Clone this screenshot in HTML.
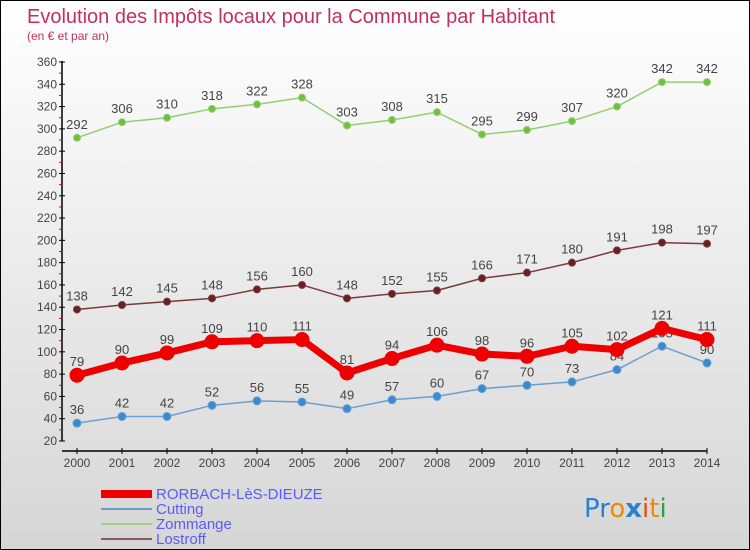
<!DOCTYPE html>
<html><head><meta charset="utf-8"><style>
body{margin:0}
#wrap{position:relative;width:748px;height:548px;border:1px solid #000;background:linear-gradient(#ffffff,#d6d6d6);overflow:hidden;font-family:"Liberation Sans","DejaVu Sans",sans-serif}
svg{position:absolute;left:0;top:0}
</style></head><body>
<div id="wrap">
<svg id="c" width="748" height="548">
<text x="26" y="22" font-size="20" fill="#c03060">Evolution des Impôts locaux pour la Commune par Habitant</text>
<text x="26" y="39" font-size="12" fill="#c03060">(en € et par an)</text>
<g id="axes"></g><g id="series"></g>
<g>
<rect x="100" y="489" width="51" height="8" fill="#e00"/>
<text x="155" y="498" font-size="15" fill="#5a5aff">RORBACH-LèS-DIEUZE</text>
<rect x="100" y="507" width="51" height="2" fill="#6aa0c8"/>
<text x="155" y="513" font-size="15" fill="#5a5aff">Cutting</text>
<rect x="100" y="522" width="51" height="2" fill="#a0d080"/>
<text x="155" y="528" font-size="15" fill="#5a5aff">Zommange</text>
<rect x="100" y="537" width="51" height="2" fill="#8a5a5a"/>
<text x="155" y="543" font-size="15" fill="#5a5aff">Lostroff</text>
</g>
<g font-size="26" font-family="'DejaVu Sans',sans-serif">
<text x="583" y="516"><tspan fill="#2a7fd0">Pr</tspan><tspan fill="#f08a00">o</tspan><tspan fill="#2a7fd0" font-weight="bold">x</tspan><tspan fill="#e05010">i</tspan><tspan fill="#f08a00">t</tspan><tspan fill="#30a040">i</tspan></text>
</g>
</svg></div>
<script>
const years=[2000,2001,2002,2003,2004,2005,2006,2007,2008,2009,2010,2011,2012,2013,2014];
const rorbach=[79,90,99,109,110,111,81,94,106,98,96,105,102,121,111];
const cutting=[36,42,42,52,56,55,49,57,60,67,70,73,84,105,90];
const zommange=[292,306,310,318,322,328,303,308,315,295,299,307,320,342,342];
const lostroff=[138,142,145,148,156,160,148,152,155,166,171,180,191,198,197];
const yTicks=[20,40,60,80,100,120,140,160,180,200,220,240,260,280,300,320,340,360];
const NS="http://www.w3.org/2000/svg";
const xS=i=>76+i*45;
const yS=v=>440-(v-20)*(379/340);
function mk(t,a,p){const e=document.createElementNS(NS,t);for(const k in a)e.setAttribute(k,a[k]);p.appendChild(e);return e;}
const ax=document.getElementById('axes');
let yl=mk('line',{x1:61,y1:60,x2:61,y2:440,stroke:'#000','stroke-width':1.5},ax);


yTicks.forEach((v,k)=>{const y=yS(v);
 mk('line',{x1:58,y1:y,x2:64,y2:y,stroke:'#000'},ax);
 if(k<yTicks.length-1) mk('line',{x1:58,y1:(y+yS(yTicks[k+1]))/2,x2:61,y2:(y+yS(yTicks[k+1]))/2,stroke:'#e00'},ax);
 const t=mk('text',{x:56,y:y+4,'font-size':12,'text-anchor':'end',fill:'#444'},ax);t.textContent=v;
 
 
});
let xl=mk('line',{x1:61,y1:450,x2:706,y2:450,stroke:'#000','stroke-width':1.5},ax);


years.forEach((yr,i)=>{const x=xS(i);
 mk('line',{x1:x,y1:447,x2:x,y2:453,stroke:'#000'},ax);
 const t=mk('text',{x:x,y:466,'font-size':12,'text-anchor':'middle',fill:'#444'},ax);t.textContent=yr;
 
 
});
const sg=document.getElementById('series');
function draw(data,name,color,w,r,dot){
 const g=mk('g',{},sg);
 
 
 mk('polyline',{points:data.map((v,i)=>xS(i)+','+yS(v)).join(' '),fill:'none',stroke:color,'stroke-width':w,'stroke-linejoin':'round'},g);
 data.forEach((v,i)=>{
  const c=mk('circle',{cx:xS(i),cy:yS(v),r:r,fill:dot,stroke:color,'stroke-width':1},g);
  
  
  const t=mk('text',{x:xS(i),y:yS(v)-9,'font-size':13,'text-anchor':'middle',fill:'#444'},g);t.textContent=v;
  
  
 });
}
draw(zommange,'zommange','#90d070',1.5,3.5,'#70c040');
draw(lostroff,'lostroff','#7a3a3a',1.5,3.5,'#6a2020');
draw(cutting,'cutting','#6aa0d0',1.5,4,'#3a8ad0');
draw(rorbach,'rorbach','#ee0000',7,7,'#ee0000');
</script>
</body></html>
